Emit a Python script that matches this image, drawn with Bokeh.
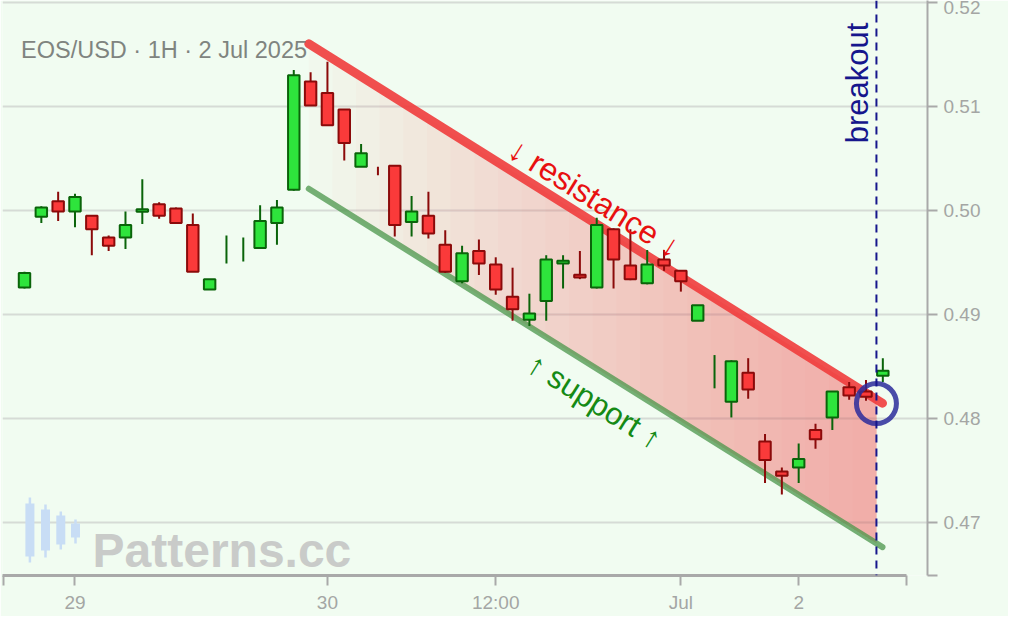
import math
import numpy as np
from bokeh.plotting import figure
from bokeh.models import Range1d, FixedTicker, Span, PrintfTickFormatter
from bokeh.core.properties import value
from bokeh.embed import file_html
from bokeh.resources import INLINE

# ---------------- data ----------------
opens = [0.4926, 0.4994, 0.5009, 0.4999, 0.4995, 0.4974, 0.4974, 0.49987, 0.5006, 0.5002,
         0.4986, 0.4924, 0.49625, 0.49615, 0.4964, 0.4988, 0.5020, 0.5124, 0.5113, 0.5097,
         0.5042, 0.50382, 0.5043, 0.4989, 0.4995, 0.4967, 0.4932, 0.4961, 0.4948, 0.4917,
         0.4895, 0.4913, 0.49490, 0.49382, 0.4926, 0.4982, 0.4947, 0.4930, 0.4953, 0.4942,
         0.4894, 0.48448, 0.4816, 0.4844, 0.4778, 0.4749, 0.4753, 0.4789, 0.4801, 0.4830,
         0.4826, 0.4841]
highs = [0.4941, 0.5004, 0.5018, 0.5016, 0.4995, 0.4976, 0.4999, 0.5030, 0.5008, 0.5003,
         0.4997, 0.4934, 0.4976, 0.4974, 0.5005, 0.5010, 0.5135, 0.5133, 0.5143, 0.5097,
         0.5064, 0.5042, 0.5043, 0.5014, 0.5018, 0.4981, 0.4966, 0.4972, 0.4955, 0.4945,
         0.4920, 0.4957, 0.4957, 0.4961, 0.4993, 0.4983, 0.4982, 0.4962, 0.4962, 0.4942,
         0.4909, 0.4861, 0.4856, 0.4858, 0.4785, 0.4753, 0.4776, 0.4795, 0.4826, 0.4835,
         0.4837, 0.4858]
lows = [0.4925, 0.4988, 0.4990, 0.4984, 0.4957, 0.4961, 0.4963, 0.4987, 0.4992, 0.4988,
        0.4941, 0.4924, 0.4949, 0.4951, 0.4964, 0.4967, 0.5019, 0.5101, 0.5082, 0.5048,
        0.5042, 0.5034, 0.4975, 0.4975, 0.4973, 0.4940, 0.4930, 0.4938, 0.4919, 0.4894,
        0.4889, 0.4894, 0.4925, 0.4934, 0.4925, 0.4925, 0.4933, 0.4929, 0.4942, 0.4922,
        0.4894, 0.4829, 0.4801, 0.4819, 0.4738, 0.4727, 0.4738, 0.4771, 0.4789, 0.4818,
        0.4817, 0.4835]
closes = [0.4940, 0.5003, 0.4999, 0.5013, 0.4982, 0.4966, 0.4986, 0.50013, 0.4995, 0.4988,
          0.4941, 0.4934, 0.49630, 0.49620, 0.4990, 0.5003, 0.5130, 0.5101, 0.5082, 0.5065,
          0.5055, 0.50378, 0.4986, 0.4999, 0.4978, 0.4941, 0.4959, 0.4949, 0.4924, 0.4905,
          0.4901, 0.4953, 0.49516, 0.49356, 0.4986, 0.4953, 0.4934, 0.4948, 0.4947, 0.4932,
          0.4909, 0.48452, 0.4855, 0.4828, 0.4760, 0.4745, 0.4761, 0.4780, 0.4826, 0.4822,
          0.4821, 0.4846]

x_tick_positions = [3, 18, 28, 39, 46]
x_tick_labels = ["29", "30", "12:00", "Jul", "2"]
y_ticks = [0.47, 0.48, 0.49, 0.50, 0.51, 0.52]

resistance_x = [16.89, 50.98]
resistance_y = [0.51603, 0.48147]
support_x = [16.89, 50.98]
support_y = [0.50209, 0.46763]
breakout_x = 50.62
breakout_y = 0.48144

title_text = "EOS/USD · 1H · 2 Jul 2025"
resistance_text = "↓ resistance ↓"
support_text = "↑ support ↑"
breakout_text = "breakout"
watermark_text = "Patterns.cc"

# ---------------- layout helpers (reference pixel -> data) ----------------
PX_PER_BAR = 16.83
PX_PER_UNIT = 10400.0


def X(px):
    return (px - 24) / PX_PER_BAR


def Y(py):
    return 0.50 - (py - 210) / PX_PER_UNIT


FONT = value("Liberation Sans")
BG = "#f1fcf1"
AXIS = "#a9a9a9"
LABEL = "#a4a6a4"

p = figure(width=1008, height=616,
           x_range=Range1d(X(2), X(927)), y_range=Range1d(Y(575), Y(0)),
           y_axis_location="right",
           output_backend="svg", toolbar_location=None,
           min_border_left=2, min_border_right=81, min_border_top=0, min_border_bottom=41,
           background_fill_color=BG, border_fill_color=BG, outline_line_color=None)

# axes
xa = p.xaxis[0]
xa.ticker = FixedTicker(ticks=x_tick_positions, minor_ticks=[X(2) + 0.03, X(906)])
xa.major_label_overrides = dict(zip(x_tick_positions, x_tick_labels))
xa.bounds = (X(2), X(906) + 0.01)
xa.axis_line_color = AXIS
xa.axis_line_width = 3
for ax in (xa, p.yaxis[0]):
    ax.major_tick_line_color = AXIS
    ax.major_tick_line_width = 2
    ax.major_tick_out = 10
    ax.major_tick_in = 0
    ax.minor_tick_line_color = AXIS
    ax.minor_tick_line_width = 2
    ax.minor_tick_out = 10
    ax.minor_tick_in = 0
    ax.major_label_text_color = LABEL
    ax.major_label_text_font_size = "19px"
    ax.major_label_text_font = "Liberation Sans"
    ax.major_label_standoff = 6

ya = p.yaxis[0]
ya.ticker = FixedTicker(ticks=y_ticks, minor_ticks=[Y(575) + 0.00002])
ya.formatter = PrintfTickFormatter(format="%.2f")
ya.axis_line_color = AXIS
ya.axis_line_width = 2

p.xgrid.visible = False
p.ygrid.ticker = FixedTicker(ticks=y_ticks)
p.ygrid.grid_line_color = "#d6dbd6"
p.ygrid.grid_line_width = 2

# ---------------- channel fill (horizontal gradient via nested patches) ----------------
def line_at(xv, lx, ly):
    return float(np.interp(xv, lx, ly))

N = 24
fx0 = resistance_x[0]
fill_xs, fill_ys = [], []
for k in range(N):
    x0 = fx0 + (breakout_x - fx0) * k / N
    fill_xs.append([x0, breakout_x, breakout_x, x0])
    fill_ys.append([line_at(x0, resistance_x, resistance_y), line_at(breakout_x, resistance_x, resistance_y),
                    line_at(breakout_x, support_x, support_y), line_at(x0, support_x, support_y)])
p.patches(fill_xs, fill_ys, fill_color="#f2685c", fill_alpha=0.026, line_color=None)

# trend lines
p.line(resistance_x, resistance_y, line_color="#f03c3c", line_alpha=0.9, line_width=9, line_cap="round")
p.line(support_x, support_y, line_color="#4a964a", line_alpha=0.75, line_width=6, line_cap="round")

# ---------------- candles ----------------
o = np.array(opens); h = np.array(highs); l = np.array(lows); c = np.array(closes)
idx = np.arange(len(o))
up = c >= o
wick_col = np.where(up, "#0a640a", "#8b0a0a")
body_col = np.where(up, "#2ee43c", "#fa3a3a")
p.segment(idx, h, idx, l, line_color=list(wick_col), line_width=2)
has_body = np.abs(c - o) > 0.0001
p.vbar(x=idx[has_body], top=np.maximum(o, c)[has_body], bottom=np.minimum(o, c)[has_body], width=0.68,
       fill_color=list(body_col[has_body]), line_color=list(wick_col[has_body]), line_width=2)

# breakout marker
p.add_layout(Span(location=breakout_x, dimension="height", line_color="#16168c", line_width=2,
                  line_dash="8 6"))
p.scatter([breakout_x], [breakout_y], marker="circle", size=40, fill_color=None,
          line_color="#2b2b9b", line_alpha=0.85, line_width=5)

# ---------------- texts ----------------
angle = -math.atan(((resistance_y[0] - resistance_y[1]) * PX_PER_UNIT) /
                   ((resistance_x[1] - resistance_x[0]) * PX_PER_BAR))
p.text(x=[X(594)], y=[Y(197.6)], text=[resistance_text], angle=angle, text_align="center",
       text_baseline="middle", text_color="#e81010", text_font=FONT, text_font_size="32px")
p.text(x=[X(594)], y=[Y(400.8)], text=[support_text], angle=angle, text_align="center",
       text_baseline="middle", text_color="#158a15", text_font=FONT, text_font_size="31px")
p.text(x=[X(857)], y=[Y(82.5)], text=[breakout_text], angle=math.pi / 2, text_align="center",
       text_baseline="middle", text_color="#16168c", text_font=FONT, text_font_size="31px")
p.text(x=[X(20.5)], y=[Y(49.3)], text=[title_text], text_align="left", text_baseline="alphabetic",
       text_color="#7f847f", text_font=FONT, text_font_size="23.5px")

# watermark
ic_c = [29.4, 45.0, 60.3, 75.0]
ic_bt = [503, 509, 515, 523]
ic_bb = [556, 550, 544, 537]
ic_wt = [497, 504, 511, 519]
ic_wb = [562, 557, 549, 543]
p.segment([X(v) for v in ic_c], [Y(v) for v in ic_wt], [X(v) for v in ic_c], [Y(v) for v in ic_wb],
          line_color="#c8ddf5", line_width=2.5)
p.quad(left=[X(v - 4.5) for v in ic_c], right=[X(v + 4.5) for v in ic_c],
       top=[Y(v) for v in ic_bt], bottom=[Y(v) for v in ic_bb], fill_color="#c8ddf5", line_color=None)
p.text(x=[X(92)], y=[Y(550)], text=[watermark_text], text_align="left", text_baseline="alphabetic",
       text_color="#c9cbc9", text_font=FONT, text_font_style="bold", text_font_size="48px")

open("out.html", "w").write(file_html(p, INLINE))
